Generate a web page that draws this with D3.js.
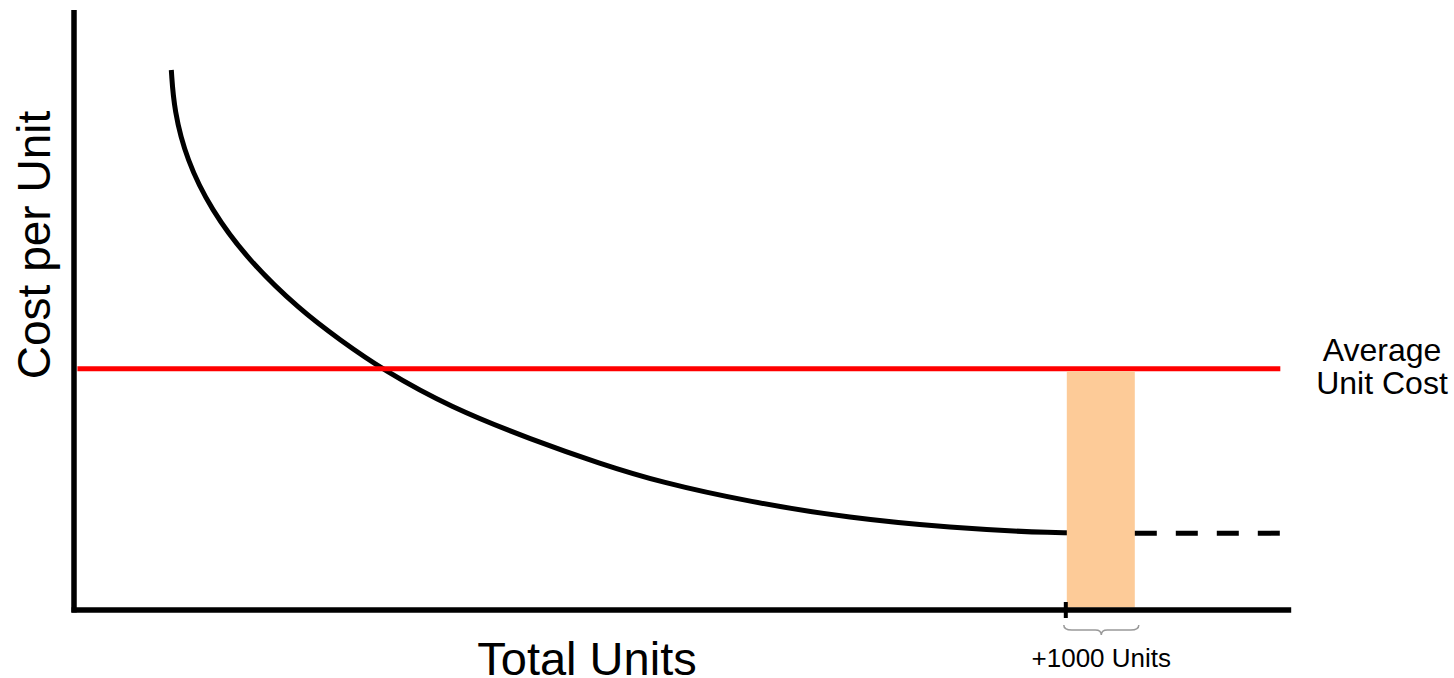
<!DOCTYPE html>
<head>
    <meta charset="utf-8">
    <title>Cost per Unit</title>
    <script src="https://d3js.org/d3.v7.min.js"></script>
    <style>
        body { margin: 0; background: #fff; }
        text { font-family: "Liberation Sans", Arial, sans-serif; fill: #000; }
    </style>
</head>
<body>
    <script>
        // curve (units in thousands, cost arbitrary 0-100)
        const curveUnits = [1.431, 1.471, 1.657, 2.015, 2.563, 3.324, 3.912, 4.544, 5.529, 6.75, 7.735, 8.618, 9.941, 11.41, 12.88, 14.35, 15.6]
        const curveCost = [90.0, 83.3, 75.0, 66.7, 58.3, 50.0, 45.0, 40.0, 33.8, 28.3, 24.4, 21.3, 18.0, 15.3, 13.7, 12.8, 12.8]
        const dashUnits = [15.6, 17.76]
        const avgCost = 40.2
        const avgUnits = [0.05, 17.74]
        const extraStart = 14.6
        const extraSize = 1
        const axisMax = [17.9, 100]
        const labels = {x: "Total Units", y: "Cost per Unit", avg: ["Average", "Unit Cost"], extra: "+1000 Units"}

        const width = 1454
        const height = 678

        const vis = d3.select("body").append("svg")
            .attr("width", width)
            .attr("height", height)

        const x = d3.scaleLinear().domain([0, 18]).range([74, 74 + 18 * 68])
        const y = d3.scaleLinear().domain([0, 100]).range([610, 10])

        const curve = curveUnits.map((u, i) => [u, curveCost[i]])

        // falling cost curve
        vis.append("path")
            .datum(curve)
            .attr("fill", "none")
            .attr("stroke", "#000")
            .attr("stroke-width", 5)
            .attr("d", d3.line().x(d => x(d[0])).y(d => y(d[1])).curve(d3.curveBasis))

        // flat dashed continuation
        vis.append("line")
            .attr("x1", x(dashUnits[0])).attr("x2", x(dashUnits[1]))
            .attr("y1", y(curveCost[curveCost.length - 1])).attr("y2", y(curveCost[curveCost.length - 1]))
            .attr("stroke", "#000")
            .attr("stroke-width", 5)
            .attr("stroke-dasharray", "22,19")

        // average unit cost
        vis.append("line")
            .attr("x1", x(avgUnits[0])).attr("x2", x(avgUnits[1]))
            .attr("y1", y(avgCost)).attr("y2", y(avgCost))
            .attr("stroke", "#ff0000")
            .attr("stroke-width", 5)

        // extra 1000 units block
        vis.append("rect")
            .attr("x", x(extraStart))
            .attr("width", x(extraStart + extraSize) - x(extraStart))
            .attr("y", y(avgCost) + 2.5)
            .attr("height", y(0) - y(avgCost) - 5)
            .attr("fill", "#fdcb98")

        // axes
        vis.append("line")
            .attr("x1", x(0)).attr("x2", x(0))
            .attr("y1", y(axisMax[1])).attr("y2", y(0) + 2.5)
            .attr("stroke", "#000").attr("stroke-width", 5.5)

        vis.append("line")
            .attr("x1", x(0) - 2.5).attr("x2", x(axisMax[0]))
            .attr("y1", y(0)).attr("y2", y(0))
            .attr("stroke", "#000").attr("stroke-width", 5.5)

        vis.append("line")
            .attr("x1", x(extraStart) - 1).attr("x2", x(extraStart) - 1)
            .attr("y1", y(0) - 8).attr("y2", y(0) + 8)
            .attr("stroke", "#000").attr("stroke-width", 4)

        // brace under the block
        const bx0 = x(extraStart) - 3, bx1 = x(extraStart + extraSize) + 4
        const bm = (bx0 + bx1) / 2
        vis.append("path")
            .attr("fill", "none")
            .attr("stroke", "#999")
            .attr("stroke-width", 1.5)
            .attr("d", `M${bx0},625 Q${bx0},630 ${bx0 + 8},630 L${bm - 6},630 Q${bm},630 ${bm},635 Q${bm},630 ${bm + 6},630 L${bx1 - 8},630 Q${bx1},630 ${bx1},625`)

        // labels
        vis.append("text")
            .attr("x", 587).attr("y", 675)
            .attr("text-anchor", "middle")
            .style("font-size", "47px")
            .text(labels.x)

        vis.append("text")
            .attr("transform", "translate(50, 245) rotate(-90)")
            .attr("text-anchor", "middle")
            .style("font-size", "46px")
            .text(labels.y)

        vis.append("text")
            .attr("x", 1382).attr("y", 361)
            .attr("text-anchor", "middle")
            .style("font-size", "32px")
            .selectAll("tspan")
            .data(labels.avg)
            .join("tspan")
                .attr("x", 1382)
                .attr("dy", (d, i) => i ? 33 : 0)
                .text(d => d)

        vis.append("text")
            .attr("x", bm).attr("y", 667)
            .attr("text-anchor", "middle")
            .style("font-size", "26px")
            .text(labels.extra)
    </script>
</body>
